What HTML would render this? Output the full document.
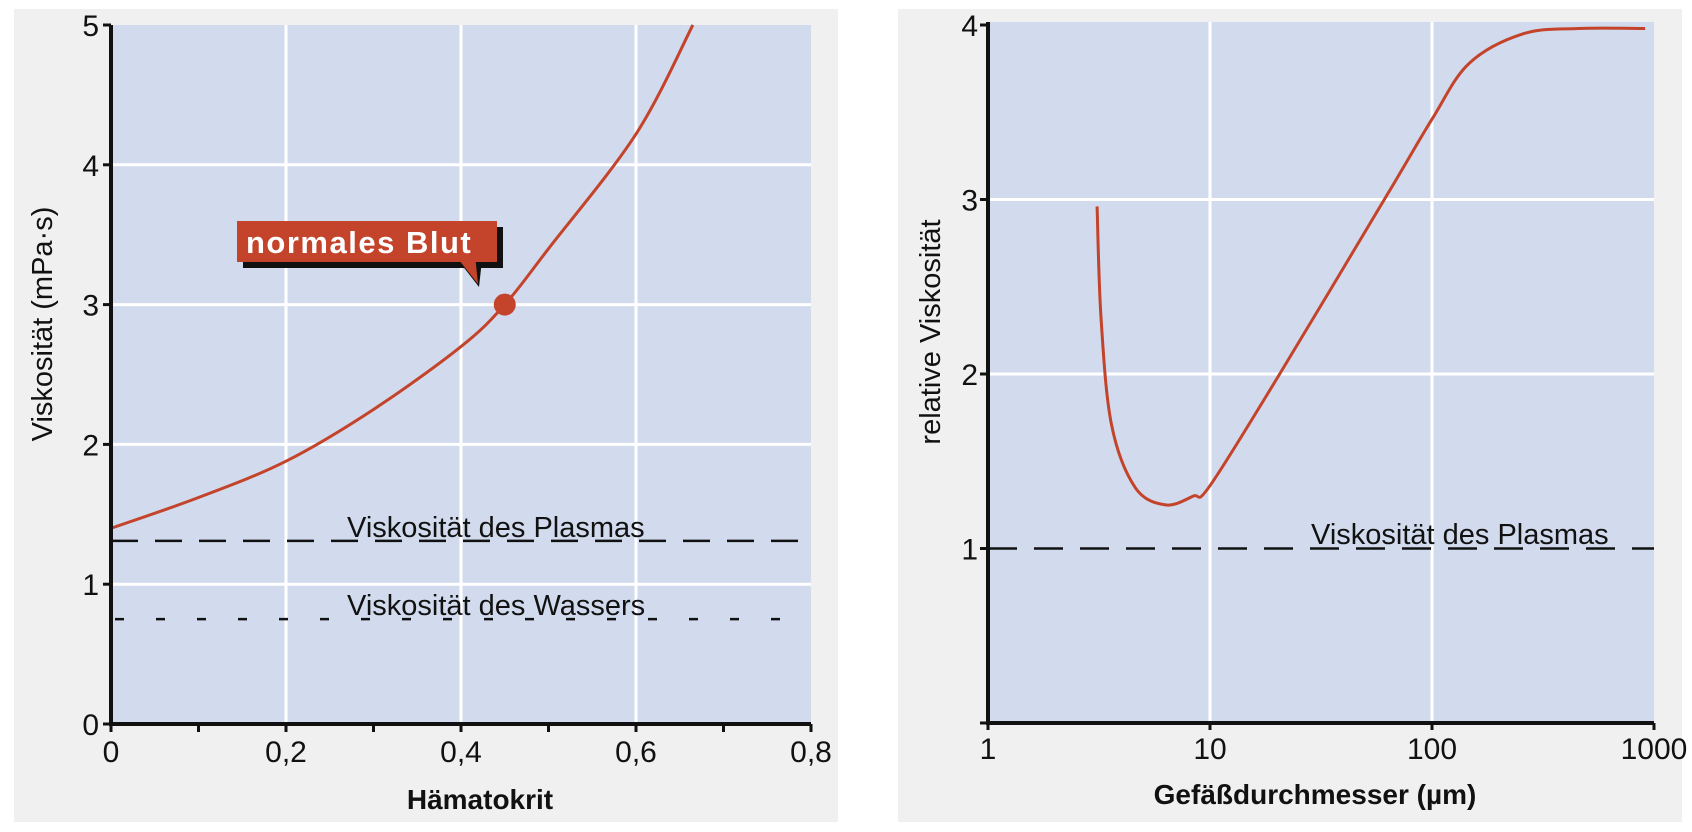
<!DOCTYPE html>
<html><head><meta charset="utf-8"><style>
html,body{margin:0;padding:0;background:#fff;}
svg{display:block;font-family:"Liberation Sans Narrow","Liberation Sans",sans-serif;}
</style></head><body>
<svg width="1692" height="832" viewBox="0 0 1692 832" id="fig">
<rect x="14" y="9" width="824" height="813" fill="#f0f0f0"/>
<rect x="898" y="9" width="784" height="813" fill="#f0f0f0"/>
<g id="left"></g>
<g id="right"></g>
</svg>
<script>
// Left chart data
const hkX = [0, 0.1, 0.2, 0.3, 0.4, 0.45, 0.5, 0.6, 0.665];
const hkVisc = [1.40, 1.62, 1.88, 2.25, 2.70, 3.0, 3.40, 4.22, 5.0];
const hkXTicks = ["0", "0,2", "0,4", "0,6", "0,8"];
const hkXTickVals = [0, 0.2, 0.4, 0.6, 0.8];
const hkYTicks = [0, 1, 2, 3, 4, 5];
const plasmaVisc = 1.31;
const waterVisc = 0.75;
const normalPoint = [0.45, 3.0];
// Right chart data
const diam = [3.1, 3.23, 3.6, 4.6, 6.3, 8.4, 10, 20.6, 63, 100, 147, 258, 457, 912];
const relVisc = [2.96, 2.32, 1.71, 1.35, 1.25, 1.30, 1.36, 2.0, 3.03, 3.46, 3.78, 3.95, 3.98, 3.98];
const dXTicks = [1, 10, 100, 1000];
const dYTicks = [1, 2, 3, 4];
const relPlasma = 1.0;

const NS = "http://www.w3.org/2000/svg";
function mk(parent, tag, attrs, text) {
  const e = document.createElementNS(NS, tag);
  for (const k in attrs) e.setAttribute(k, attrs[k]);
  if (text !== undefined) e.textContent = text;
  parent.appendChild(e);
  return e;
}
function smoothPath(pts) {
  let d = "M" + pts[0][0] + "," + pts[0][1];
  for (let i = 0; i < pts.length - 1; i++) {
    const p0 = pts[Math.max(0, i - 1)], p1 = pts[i], p2 = pts[i + 1], p3 = pts[Math.min(pts.length - 1, i + 2)];
    const c1x = p1[0] + (p2[0] - p0[0]) / 6, c1y = p1[1] + (p2[1] - p0[1]) / 6;
    const c2x = p2[0] - (p3[0] - p1[0]) / 6, c2y = p2[1] - (p3[1] - p1[1]) / 6;
    d += " C" + c1x + "," + c1y + " " + c2x + "," + c2y + " " + p2[0] + "," + p2[1];
  }
  return d;
}

// ---------- Left chart ----------
(function () {
  const g = document.getElementById("left");
  const X0 = 111, X1 = 811, Y0 = 724, Y1 = 25;
  const sx = v => X0 + (v / 0.8) * (X1 - X0);
  const sy = v => Y0 - (v / 5) * (Y0 - Y1);
  const bg = mk(g, "rect", {x: X0, y: Y1, width: X1 - X0, height: Y0 - Y1, fill: "#d1dbed"});
  
  
  hkXTickVals.slice(1, 4).forEach(v => {
    const l = mk(g, "line", {x1: sx(v), x2: sx(v), y1: Y1, y2: Y0, stroke: "#fff", "stroke-width": 3});
    
    
  });
  hkYTicks.slice(1, 5).forEach(v => {
    const l = mk(g, "line", {x1: X0, x2: X1, y1: sy(v), y2: sy(v), stroke: "#fff", "stroke-width": 3});
    
    
  });
  // reference lines
  const pl = mk(g, "line", {x1: X0, x2: X1, y1: sy(plasmaVisc), y2: sy(plasmaVisc), stroke: "#111", "stroke-width": 2.5, "stroke-dasharray": "27,17"});
  
  
  const wl = mk(g, "line", {x1: X0 + 4, x2: X1, y1: sy(waterVisc), y2: sy(waterVisc), stroke: "#111", "stroke-width": 2.5, "stroke-dasharray": "9,32"});
  
  
  const t1 = mk(g, "text", {x: 347, y: 537, "font-size": 29, fill: "#111"}, "Viskosität des Plasmas");
  
  
  const t2 = mk(g, "text", {x: 347, y: 615, "font-size": 29, fill: "#111"}, "Viskosität des Wassers");
  
  
  // curve
  const pts = hkX.map((v, i) => [sx(v), sy(hkVisc[i])]);
  const c = mk(g, "path", {d: smoothPath(pts), fill: "none", stroke: "#c4432b", "stroke-width": 3});
  
  
  const dot = mk(g, "circle", {cx: sx(normalPoint[0]), cy: sy(normalPoint[1]), r: 11, fill: "#c4432b"});
  
  
  // callout
  const call = mk(g, "g", {});
  
  
  mk(call, "rect", {x: 243, y: 227, width: 260, height: 41, fill: "#111"});
  mk(call, "polygon", {points: "458,260 482,260 479,287", fill: "#111"});
  mk(call, "rect", {x: 237, y: 221, width: 260, height: 41, fill: "#c4432b"});
  mk(call, "polygon", {points: "455,255 475,255 478,284", fill: "#c4432b"});
  const ct = mk(call, "text", {x: 246, y: 253, "font-size": 31, "font-weight": "bold", fill: "#fff", "letter-spacing": "1.5", "font-family": "Liberation Sans, sans-serif"}, "normales Blut");
  
  
  // axes
  const ax = mk(g, "path", {d: `M${X0},${Y1} V${Y0} H${X1}`, fill: "none", stroke: "#111", "stroke-width": 4});
  
  
  for (let i = 0; i <= 8; i++) {
    const v = i * 0.1;
    const tk = mk(g, "line", {x1: sx(v), x2: sx(v), y1: Y0, y2: Y0 + 8, stroke: "#111", "stroke-width": 3});
    
    
  }
  hkXTickVals.forEach((v, i) => {
    const t = mk(g, "text", {x: sx(v), y: 762, "font-size": 30, "text-anchor": "middle", fill: "#111"}, hkXTicks[i]);
    
    
  });
  hkYTicks.forEach(v => {
    const tk = mk(g, "line", {x1: X0 - 8, x2: X0, y1: sy(v), y2: sy(v), stroke: "#111", "stroke-width": 3});
    
    
    const t = mk(g, "text", {x: X0 - 12, y: sy(v) + 11, "font-size": 30, "text-anchor": "end", fill: "#111"}, String(v));
    
    
  });
  const xt = mk(g, "text", {x: 480, y: 809, "font-size": 28, "font-weight": "bold", "text-anchor": "middle", fill: "#111"}, "Hämatokrit");
  
  
  const yt = mk(g, "text", {x: 0, y: 0, "font-size": 29, "text-anchor": "middle", fill: "#111", transform: "translate(52,324) rotate(-90)"}, "Viskosität (mPa·s)");
  
  
})();

// ---------- Right chart ----------
(function () {
  const g = document.getElementById("right");
  const X0 = 988, X1 = 1654, Y0 = 723, Y1 = 22;
  const sx = v => X0 + (Math.log10(v) / 3) * (X1 - X0);
  const sy = v => Y0 - v * 174.5;
  const bg = mk(g, "rect", {x: X0, y: Y1, width: X1 - X0, height: Y0 - Y1, fill: "#d1dbed"});
  
  
  dXTicks.slice(1, 3).forEach(v => {
    const l = mk(g, "line", {x1: sx(v), x2: sx(v), y1: Y1, y2: Y0, stroke: "#fff", "stroke-width": 3});
    
    
  });
  dYTicks.slice(1, 3).forEach(v => {
    const l = mk(g, "line", {x1: X0, x2: X1, y1: sy(v), y2: sy(v), stroke: "#fff", "stroke-width": 3});
    
    
  });
  const pl = mk(g, "line", {x1: X0, x2: X1, y1: sy(relPlasma), y2: sy(relPlasma), stroke: "#111", "stroke-width": 2.5, "stroke-dasharray": "29,17"});
  
  
  const t1 = mk(g, "text", {x: 1311, y: 544, "font-size": 29, fill: "#111"}, "Viskosität des Plasmas");
  
  
  const pts = diam.map((v, i) => [sx(v), sy(relVisc[i])]);
  const c = mk(g, "path", {d: smoothPath(pts), fill: "none", stroke: "#c4432b", "stroke-width": 3});
  
  
  const ax = mk(g, "path", {d: `M${X0},${Y1} V${Y0} H${X1}`, fill: "none", stroke: "#111", "stroke-width": 4});
  
  
  [0].concat(dYTicks).forEach(v => {
    const tk = mk(g, "line", {x1: X0 - 8, x2: X0, y1: sy(v), y2: sy(v), stroke: "#111", "stroke-width": 3});
    
    
  });
  dYTicks.forEach(v => {
    const t = mk(g, "text", {x: X0 - 10, y: sy(v) + 11, "font-size": 30, "text-anchor": "end", fill: "#111"}, String(v));
    
    
  });
  dXTicks.forEach(v => {
    const tk = mk(g, "line", {x1: sx(v), x2: sx(v), y1: Y0, y2: Y0 + 7, stroke: "#111", "stroke-width": 3});
    
    
    const t = mk(g, "text", {x: sx(v), y: 759, "font-size": 30, "text-anchor": "middle", fill: "#111"}, String(v));
    
    
  });
  const xt = mk(g, "text", {x: 1315, y: 804, "font-size": 28, "font-weight": "bold", "text-anchor": "middle", fill: "#111"}, "Gefäßdurchmesser (µm)");
  
  
  const yt = mk(g, "text", {x: 0, y: 0, "font-size": 29, "text-anchor": "middle", fill: "#111", transform: "translate(940,332) rotate(-90)"}, "relative Viskosität");
  
  
})();
</script>
</body></html>
